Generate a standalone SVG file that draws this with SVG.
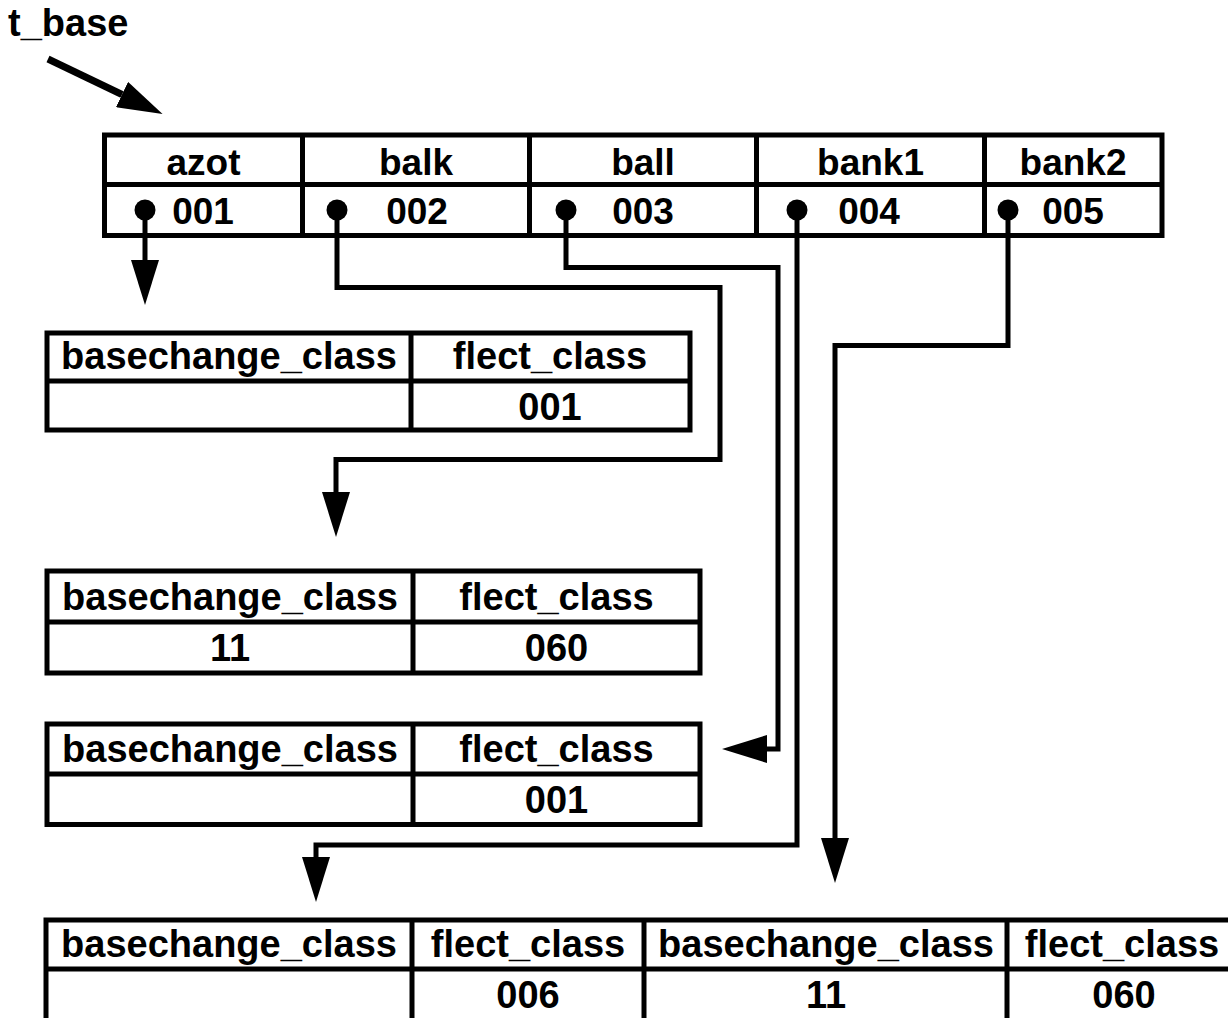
<svg xmlns="http://www.w3.org/2000/svg" width="1228" height="1018" viewBox="0 0 1228 1018">
  <style>
    .grid { fill: none; stroke: #000; stroke-width: 5; }
    .txt { font-family: "Liberation Sans", Arial, sans-serif; font-weight: bold; font-size: 37px; fill: #000; text-anchor: middle; }
    .rec .txt { font-size: 38px; }
    .wire { fill: none; stroke: #000; stroke-width: 5; stroke-linejoin: miter; stroke-linecap: butt; }
    .dot { fill: #000; }
  </style>
  <defs>
    <!-- arrowhead placed with its base on the end of the wire -->
    <marker id="head" viewBox="0 0 45 28" refX="0" refY="14" markerWidth="45" markerHeight="28" markerUnits="userSpaceOnUse" orient="auto">
      <path d="M0,0 L45,14 L0,28 Z" fill="#000"/>
    </marker>
  </defs>
  <rect width="1228" height="1018" fill="#fff"/>

  <!-- pointer label -->
  <g id="t_base">
    <text class="txt" x="8" y="36" style="text-anchor:start;font-size:38px">t_base</text>
  </g>

  <!-- base table -->
  <g id="base_table">
    <rect class="grid" x="104.5" y="135" width="1057.5" height="100.5"/>
    <path class="grid" d="M104.5,184.5 H1162 M302.5,135 V235.5 M529.5,135 V235.5 M756.5,135 V235.5 M984.5,135 V235.5"/>
    <text class="txt" x="203.5" y="175">azot</text>
    <text class="txt" x="416" y="175">balk</text>
    <text class="txt" x="643" y="175">ball</text>
    <text class="txt" x="870.5" y="175">bank1</text>
    <text class="txt" x="1073" y="175">bank2</text>
    <text class="txt" x="203" y="224">001</text>
    <text class="txt" x="417" y="224">002</text>
    <text class="txt" x="643" y="224">003</text>
    <text class="txt" x="869" y="224">004</text>
    <text class="txt" x="1073" y="224">005</text>
    <circle class="dot" cx="145" cy="210" r="10.5"/>
    <circle class="dot" cx="337" cy="210" r="10.5"/>
    <circle class="dot" cx="566" cy="210" r="10.5"/>
    <circle class="dot" cx="797" cy="210" r="10.5"/>
    <circle class="dot" cx="1008" cy="210" r="10.5"/>
  </g>

  <!-- class record for azot -->
  <g id="rec_azot" class="rec">
    <rect class="grid" x="47" y="333" width="643" height="97"/>
    <path class="grid" d="M47,381 H690 M411,333 V430"/>
    <text class="txt" x="229" y="369">basechange_class</text>
    <text class="txt" x="550" y="369">flect_class</text>
    <text class="txt" x="550" y="420">001</text>
  </g>

  <!-- class record for balk -->
  <g id="rec_balk" class="rec">
    <rect class="grid" x="47" y="571" width="653" height="102"/>
    <path class="grid" d="M47,622 H700 M413,571 V673"/>
    <text class="txt" x="230" y="610">basechange_class</text>
    <text class="txt" x="556.5" y="610">flect_class</text>
    <text class="txt" x="230" y="661">11</text>
    <text class="txt" x="556.5" y="661">060</text>
  </g>

  <!-- class record for ball -->
  <g id="rec_ball" class="rec">
    <rect class="grid" x="47" y="724" width="653" height="100.5"/>
    <path class="grid" d="M47,774 H700 M413,724 V824.5"/>
    <text class="txt" x="230" y="762">basechange_class</text>
    <text class="txt" x="556.5" y="762">flect_class</text>
    <text class="txt" x="556.5" y="813">001</text>
  </g>

  <!-- double class record shared by bank1 / bank2 -->
  <g id="rec_bank" class="rec">
    <rect class="grid" x="46" y="920" width="1190" height="102"/>
    <path class="grid" d="M46,969 H1236 M412,920 V1022 M644,920 V1022 M1007,920 V1022"/>
    <text class="txt" x="229" y="957">basechange_class</text>
    <text class="txt" x="528" y="957">flect_class</text>
    <text class="txt" x="826" y="957">basechange_class</text>
    <text class="txt" x="1122" y="957">flect_class</text>
    <text class="txt" x="528" y="1008">006</text>
    <text class="txt" x="826" y="1008">11</text>
    <text class="txt" x="1124" y="1008">060</text>
  </g>

  <!-- pointers -->
  <g id="connectors">
    <path class="wire" style="stroke-width:7" d="M48,59 L122,94.5" marker-end="url(#head)"/>
    <path class="wire" d="M145,210 V260" marker-end="url(#head)"/>
    <path class="wire" d="M337,210 V287.5 H720 V459.5 H336 V492" marker-end="url(#head)"/>
    <path class="wire" d="M566,210 V267.5 H778 V749 H767" marker-end="url(#head)"/>
    <path class="wire" d="M797,210 V845 H316 V857" marker-end="url(#head)"/>
    <path class="wire" d="M1008,210 V345.5 H835 V838" marker-end="url(#head)"/>
  </g>
</svg>
